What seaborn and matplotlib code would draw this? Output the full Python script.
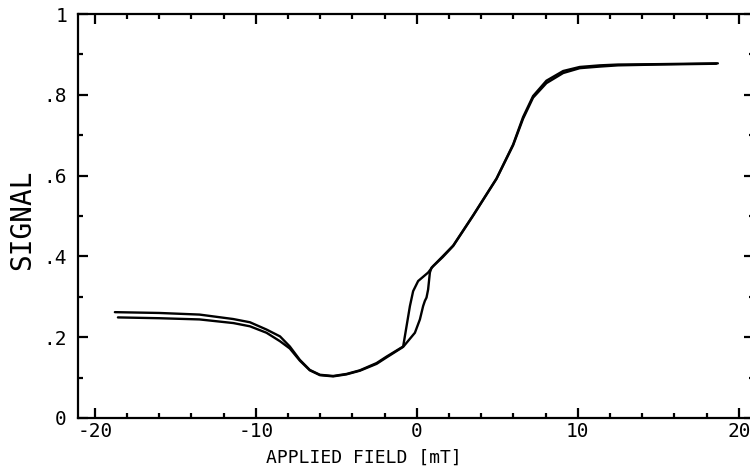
import numpy as np
import pandas as pd
import matplotlib
matplotlib.use("Agg")
import matplotlib.pyplot as plt
import seaborn as sns

# --- data (field in mT, signal) ---
# sweep with increasing field (lower-left branch, right edge of the loop)
up_field = [-18.57, -16.0, -13.5, -11.4, -10.37, -9.34, -8.5, -7.89, -7.27, -6.65,
            -6.02, -5.2, -4.37, -3.54, -2.5, -1.88, -0.85, -0.12, 0.19, 0.39, 0.5,
            0.6, 0.7, 0.81, 0.91, 1.6, 2.26, 3.5, 4.95, 5.98, 6.6, 7.22, 8.05,
            9.09, 10.12, 11.37, 12.5, 15.0, 18.6]
up_signal = [0.249, 0.247, 0.244, 0.235, 0.227, 0.211, 0.190, 0.172, 0.142, 0.118,
             0.106, 0.103, 0.108, 0.117, 0.134, 0.150, 0.176, 0.211, 0.244, 0.277, 0.290,
             0.298, 0.318, 0.360, 0.372, 0.398, 0.426, 0.501, 0.592, 0.675, 0.741, 0.793, 0.829,
             0.854, 0.866, 0.870, 0.873, 0.875, 0.877]

# sweep with decreasing field (upper-left branch, left edge of the loop)
down_field = [18.7, 15.0, 12.5, 11.37, 10.12, 9.09, 8.05, 7.22, 6.6, 5.98,
              4.95, 3.5, 2.26, 1.6, 1.01, 0.7, 0.08, -0.23, -0.43, -0.64, -0.85,
              -1.88, -2.5, -3.54, -4.37, -5.2, -6.02, -6.65, -7.27, -7.89, -8.5,
              -9.34, -10.37, -11.41, -13.5, -16.0, -18.76]
down_signal = [0.878, 0.876, 0.875, 0.873, 0.869, 0.859, 0.835, 0.797, 0.745, 0.677,
               0.593, 0.502, 0.427, 0.400, 0.376, 0.360, 0.339, 0.314, 0.277, 0.227, 0.177,
               0.152, 0.136, 0.118, 0.109, 0.104, 0.107, 0.119, 0.144, 0.177, 0.202,
               0.219, 0.237, 0.245, 0.256, 0.260, 0.262]

x_ticks = [-20, -10, 0, 10, 20]
x_tick_labels = ["-20", "-10", "0", "10", "20"]
y_ticks = [0, 0.2, 0.4, 0.6, 0.8, 1.0]
y_tick_labels = ["0", ".2", ".4", ".6", ".8", "1"]

df = pd.concat([
    pd.DataFrame({"field": up_field, "signal": up_signal, "sweep": "up"}),
    pd.DataFrame({"field": down_field, "signal": down_signal, "sweep": "down"}),
], ignore_index=True)

# --- style ---
sns.set_theme(style="ticks")
plt.rcParams['font.family'] = ['DejaVu Sans Mono', 'DejaVu Sans']
plt.rcParams['axes.unicode_minus'] = False

fig = plt.figure(figsize=(7.5, 4.73), dpi=100)
ax = fig.add_axes([0.104, 0.1163, 0.901, 0.854])

sns.lineplot(data=df, x="field", y="signal", hue="sweep", units="sweep",
             estimator=None, sort=False, palette=["black", "black"],
             linewidth=1.7, legend=False, ax=ax)
for ln in ax.lines:
    ln.set_solid_joinstyle("round")

ax.set_xlim(-21.05, 20.93)
ax.set_ylim(0, 1.0)
ax.set_xticks(x_ticks)
ax.set_xticklabels(x_tick_labels)
ax.set_yticks(y_ticks)
ax.set_yticklabels(y_tick_labels)
ax.set_xticks(np.arange(-18, 20, 2), minor=True)
ax.set_yticks(np.arange(0.1, 1.0, 0.2), minor=True)

for s in ax.spines.values():
    s.set_linewidth(1.6)
    s.set_color("black")

ax.tick_params(which="both", direction="in", top=True, right=True,
               colors="black", width=1.6)
ax.tick_params(which="major", length=7, labelsize=14)
ax.tick_params(axis="x", which="major", pad=3)
ax.tick_params(axis="y", which="major", pad=8)
ax.tick_params(which="minor", length=3.5)

ax.set_xlabel("APPLIED FIELD [mT]", fontsize=13, color="black")
ax.xaxis.set_label_coords(0.423, -0.075)
ax.set_ylabel("SIGNAL", fontsize=20, color="black")
ax.yaxis.set_label_coords(-0.062, 0.49)

fig.savefig("out.png", dpi=100)
